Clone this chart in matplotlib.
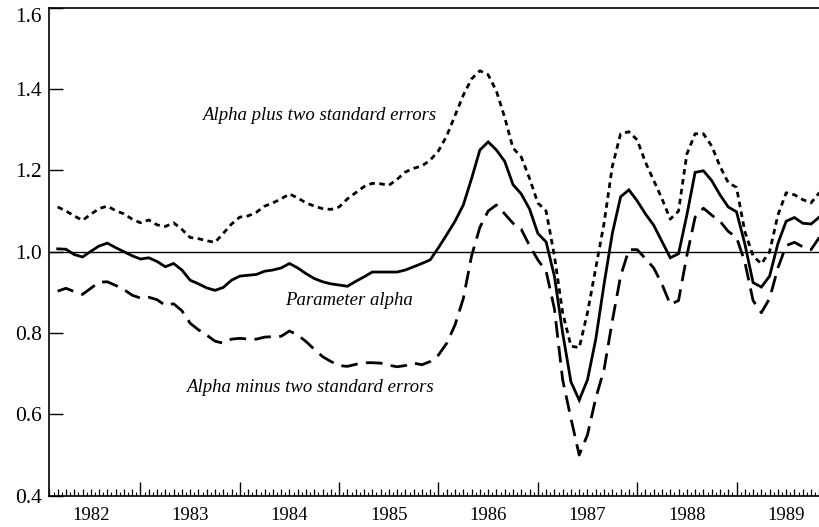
"""Time-varying parameter alpha with a band of two standard errors,
monthly, 1982-1989."""
import matplotlib
matplotlib.use("Agg")
import matplotlib.pyplot as plt
import numpy as np
import pandas as pd
from matplotlib.ticker import FixedLocator, NullFormatter

plt.rcParams["font.family"] = ["Liberation Serif", "DejaVu Serif"]

# monthly observations, March 1982 .. November 1989
months = pd.date_range("1982-03-01", periods=93, freq="MS")

alpha = [
    1.007, 1.006, 0.993, 0.987, 1.001, 1.014, 1.021, 1.010, 1.000, 0.990,
    0.982, 0.985, 0.976, 0.963, 0.971, 0.955, 0.930, 0.921, 0.911, 0.905,
    0.912, 0.930, 0.940, 0.942, 0.944, 0.952, 0.955, 0.960, 0.971, 0.960,
    0.946, 0.934, 0.926, 0.921, 0.918, 0.915, 0.927, 0.938, 0.950, 0.950,
    0.950, 0.950, 0.955, 0.963, 0.971, 0.980, 1.010, 1.042, 1.075, 1.115,
    1.180, 1.250, 1.270, 1.250, 1.222, 1.165, 1.142, 1.105, 1.045, 1.024,
    0.940, 0.800, 0.680, 0.635, 0.685, 0.785, 0.920, 1.045, 1.135, 1.152,
    1.125, 1.093, 1.065, 1.025, 0.985, 0.995, 1.090, 1.195, 1.199, 1.175,
    1.140, 1.110, 1.098, 1.020, 0.924, 0.913, 0.940, 1.020, 1.075, 1.084,
    1.070, 1.068, 1.085,
]
alpha_plus = [
    1.110, 1.100, 1.088, 1.077, 1.092, 1.106, 1.112, 1.101, 1.093, 1.080,
    1.071, 1.078, 1.066, 1.062, 1.071, 1.055, 1.035, 1.032, 1.027, 1.023,
    1.045, 1.068, 1.085, 1.088, 1.097, 1.112, 1.120, 1.130, 1.142, 1.132,
    1.120, 1.112, 1.106, 1.104, 1.110, 1.130, 1.145, 1.160, 1.168, 1.167,
    1.163, 1.178, 1.196, 1.205, 1.211, 1.225, 1.248, 1.285, 1.335, 1.385,
    1.425, 1.445, 1.435, 1.395, 1.330, 1.255, 1.233, 1.180, 1.120, 1.100,
    0.990, 0.850, 0.768, 0.764, 0.850, 0.960, 1.070, 1.210, 1.290, 1.295,
    1.275, 1.220, 1.175, 1.130, 1.080, 1.100, 1.240, 1.290, 1.290, 1.260,
    1.210, 1.170, 1.158, 1.050, 0.990, 0.970, 1.000, 1.090, 1.145, 1.140,
    1.128, 1.120, 1.145,
]
alpha_minus = [
    0.903, 0.910, 0.902, 0.895, 0.910, 0.925, 0.926, 0.917, 0.907, 0.893,
    0.886, 0.888, 0.882, 0.868, 0.872, 0.855, 0.824, 0.808, 0.795, 0.780,
    0.775, 0.785, 0.787, 0.785, 0.785, 0.790, 0.791, 0.792, 0.805, 0.795,
    0.779, 0.760, 0.742, 0.730, 0.720, 0.718, 0.723, 0.727, 0.727, 0.726,
    0.721, 0.717, 0.720, 0.726, 0.722, 0.730, 0.746, 0.775, 0.820, 0.885,
    0.990, 1.060, 1.100, 1.115, 1.093, 1.070, 1.055, 1.015, 0.980, 0.952,
    0.860, 0.685, 0.590, 0.500, 0.550, 0.640, 0.710, 0.830, 0.940, 1.005,
    1.005, 0.983, 0.960, 0.920, 0.870, 0.880, 0.990, 1.085, 1.107, 1.090,
    1.075, 1.050, 1.035, 0.975, 0.880, 0.850, 0.885, 0.960, 1.015, 1.023,
    1.012, 1.005, 1.035,
]

years = [1982, 1983, 1984, 1985, 1986, 1987, 1988, 1989]
y_ticks = [0.4, 0.6, 0.8, 1.0, 1.2, 1.4, 1.6]

# decimal-year positions of the observations
x = months.year + (months.month - 1) / 12.0

fig = plt.figure(figsize=(8.19, 5.27), dpi=100)
ax = fig.add_axes([0.0598, 0.0594, 0.945, 0.926])

ax.axhline(1.0, color="black", lw=1.0)
ax.plot(x, alpha, color="black", lw=2.0, solid_joinstyle="miter")
ax.plot(x, alpha_plus, color="black", lw=2.0, dashes=(2.0, 1.6))
ax.plot(x, alpha_minus, color="black", lw=2.0, dashes=(6.0, 3.0))

txt = dict(fontsize=13.5, style="italic", ha="center", va="center")
ax.text(1984.8, 1.335, "Alpha plus two standard errors", **txt)
ax.text(1985.1, 0.881, "Parameter alpha", **txt)
ax.text(1984.71, 0.666, "Alpha minus two standard errors", **txt)

ax.set_xlim(1982.079, 1989.87)
ax.set_ylim(0.4, 1.6)

for side in ("left", "bottom", "top"):
    ax.spines[side].set_linewidth(1.2)
ax.spines["right"].set_visible(False)

# y axis
ax.set_yticks(y_ticks)
ax.set_yticklabels([f"{v:.1f}" for v in y_ticks])
ax.tick_params(axis="y", direction="in", length=10, width=1.0,
               labelsize=15.5, pad=5)
ax.get_yticklabels()[-1].set_va("top")

# x axis: tall ticks at year starts, monthly small ticks, labels mid-year
ax.xaxis.set_major_locator(FixedLocator([y + 1 for y in years[:-1]]))
ax.xaxis.set_major_formatter(NullFormatter())
ax.xaxis.set_minor_locator(FixedLocator(
    [y + m / 12.0 for y in range(1982, 1990) for m in range(12)]))
ax.tick_params(axis="x", which="major", direction="in", length=10, width=1.0)
ax.tick_params(axis="x", which="minor", direction="in", length=5, width=0.9)
ax.tick_params(top=False, which="both")

sec = ax.secondary_xaxis("bottom")
sec.set_xticks([y + 0.5 for y in years])
sec.set_xticklabels([str(y) for y in years])
sec.xaxis.set_minor_locator(FixedLocator(
    [y + (m + 0.5) / 12.0 for y in range(1982, 1990) for m in range(12)]))
sec.tick_params(axis="x", which="major", length=0, labelsize=13.5, pad=8)
sec.tick_params(axis="x", which="minor", direction="in", length=3, width=0.8)
sec.spines["bottom"].set_visible(False)

fig.savefig("out.png", dpi=100)
